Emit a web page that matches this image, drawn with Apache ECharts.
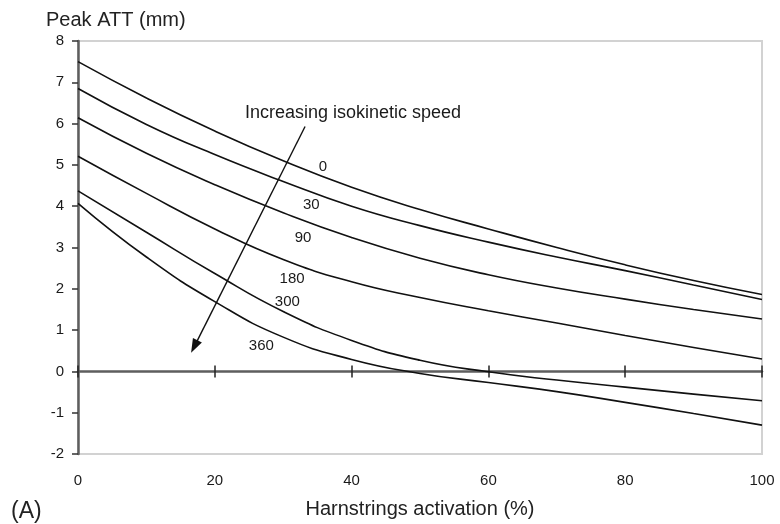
<!DOCTYPE html>
<html>
<head>
<meta charset="utf-8">
<script src="https://cdn.jsdelivr.net/npm/echarts@6/dist/echarts.min.js"></script>
<style>
  html, body { margin: 0; padding: 0; background: #fff; }
  #chart { width: 780px; height: 524px; }
</style>
</head>
<body>
<div id="chart"></div>
<script>
// Hamstrings activation (%) at which each curve is sampled
const activation = [0, 10, 20, 30, 40, 50, 60, 70, 80, 90, 100];

// Peak anterior tibial translation (mm) per isokinetic speed (deg/s)
const speeds = ['0', '30', '90', '180', '300', '360'];
const att0   = [7.50, 6.62, 5.82, 5.10, 4.46, 3.92, 3.45, 3.00, 2.58, 2.20, 1.86];
const att30  = [6.85, 5.98, 5.25, 4.60, 4.00, 3.53, 3.13, 2.77, 2.44, 2.09, 1.74];
const att90  = [6.14, 5.28, 4.52, 3.84, 3.24, 2.74, 2.34, 2.02, 1.75, 1.50, 1.27];
const att180 = [5.21, 4.31, 3.45, 2.71, 2.17, 1.79, 1.47, 1.17, 0.87, 0.58, 0.30];
const att300 = [4.37, 3.37, 2.37, 1.45, 0.75, 0.27, -0.01, -0.21, -0.38, -0.55, -0.71];
const att360 = [4.07, 2.77, 1.69, 0.83, 0.29, -0.05, -0.27, -0.49, -0.75, -1.02, -1.30];
const curves = [att0, att30, att90, att180, att300, att360];

// Where each speed label sits (activation %, ATT mm)
const labelAt = [[35.8, 4.96], [34.1, 4.04], [32.9, 3.24], [31.3, 2.25], [30.6, 1.69], [26.8, 0.63]];

// Axis ranges and ticks
const xTicks = [0, 20, 40, 60, 80, 100];
const yTicks = [-2, -1, 0, 1, 2, 3, 4, 5, 6, 7, 8];

// Arrow for the annotation (tail -> head)
const arrowTail = [33.2, 5.93];
const arrowHead = [17.0, 0.60];

const FONT = '"Liberation Sans", Arial, Helvetica, sans-serif';
const AXIS_DARK = '#5e5e5e';
const TEXT = '#1a1a1a';

const chart = echarts.init(document.getElementById('chart'), null, { renderer: 'canvas' });

const xBase = {
  type: 'value',
  min: xTicks[0],
  max: xTicks[xTicks.length - 1],
  interval: 20,
  splitLine: { show: false },
  gridIndex: 0
};

const series = speeds.map((name, i) => ({
  name: name,
  type: 'line',
  xAxisIndex: 0,
  yAxisIndex: 0,
  data: activation.map((x, j) => [x, curves[i][j]]),
  smooth: 0.5,
  showSymbol: false,
  symbol: 'none',
  lineStyle: { color: '#111', width: 1.6 },
  z: 5,
  silent: true,
  markPoint: {
    symbol: 'circle',
    symbolSize: 0,
    data: [{ coord: labelAt[i], value: name }],
    label: {
      show: true,
      position: 'inside',
      formatter: name,
      fontFamily: FONT,
      fontSize: 15,
      color: TEXT
    }
  },
  markLine: i === 0 ? {
    silent: true,
    symbol: ['none', 'triangle'],
    symbolSize: [10, 14],
    label: { show: false },
    lineStyle: { color: '#111', width: 1.4, type: 'solid' },
    data: [[{ coord: arrowTail }, { coord: arrowHead }]]
  } : undefined
}));

const option = {
  backgroundColor: '#fff',
  animation: false,
  textStyle: { fontFamily: FONT },
  grid: {
    left: 78, right: 18, top: 41, bottom: 70,
    show: true,
    borderColor: '#d2d2d2',
    borderWidth: 2,
    backgroundColor: 'transparent'
  },
  xAxis: [
    Object.assign({}, xBase, {
      position: 'bottom',
      axisLine: { show: false, onZero: false },
      axisTick: { show: false },
      axisLabel: { margin: 19, fontSize: 15, color: TEXT, fontFamily: FONT },
      name: 'Harnstrings activation (%)',
      nameLocation: 'middle',
      nameGap: 45,
      nameTextStyle: { fontSize: 20, color: '#222', fontFamily: FONT }
    }),
    Object.assign({}, xBase, {
      position: 'bottom',
      axisLine: { show: true, onZero: true, onZeroAxisIndex: 0, lineStyle: { color: AXIS_DARK, width: 2.5 } },
      axisTick: { show: true, inside: false, length: 6, lineStyle: { color: '#222', width: 1.5 } },
      axisLabel: { show: false }
    }),
    Object.assign({}, xBase, {
      position: 'bottom',
      axisLine: { show: false, onZero: true, onZeroAxisIndex: 0 },
      axisTick: { show: true, inside: true, length: 6, lineStyle: { color: '#222', width: 1.5 } },
      axisLabel: { show: false }
    })
  ],
  yAxis: {
    type: 'value',
    min: yTicks[0],
    max: yTicks[yTicks.length - 1],
    interval: 1,
    position: 'left',
    splitLine: { show: false },
    axisLine: { show: true, onZero: false, lineStyle: { color: AXIS_DARK, width: 2.5 } },
    axisTick: { show: true, length: 6, lineStyle: { color: '#333', width: 1.5 } },
    axisLabel: { margin: 14, fontSize: 15, color: TEXT, fontFamily: FONT }
  },
  title: {
    text: 'Peak ATT (mm)',
    left: 41,
    top: 5,
    textStyle: { fontSize: 20, fontWeight: 'normal', color: '#222', fontFamily: FONT }
  },
  graphic: [
    {
      type: 'text',
      left: 11,
      top: 500,
      style: { text: '(A)', fontSize: 23, fill: '#222', fontFamily: FONT }
    },
    {
      type: 'text',
      left: 245,
      top: 104,
      style: { text: 'Increasing isokinetic speed', fontSize: 18, fill: TEXT, fontFamily: FONT }
    }
  ],
  series: series
};

chart.setOption(option);
</script>
</body>
</html>
